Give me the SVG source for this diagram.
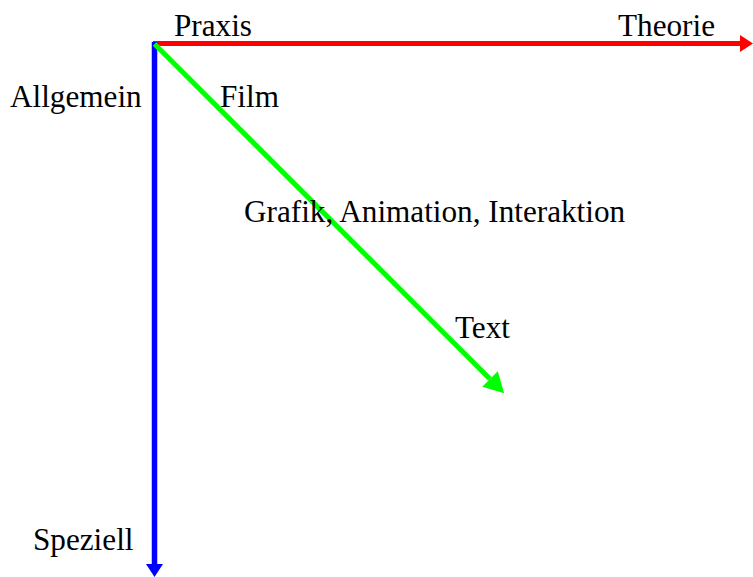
<svg xmlns="http://www.w3.org/2000/svg" width="753" height="577" viewBox="0 0 753 577">
<style>
text{font-family:"Liberation Serif","Times New Roman",serif;font-size:31.2px;fill:#000}
</style>
<defs>
<marker id="hr" markerUnits="userSpaceOnUse" markerWidth="14" markerHeight="18" refX="0" refY="8.5" orient="auto"><path d="M0,0L13,8.5L0,17z" fill="#ff0000"/></marker>
<marker id="hb" markerUnits="userSpaceOnUse" markerWidth="14" markerHeight="18" refX="0" refY="8.5" orient="auto"><path d="M0,0L13,8.5L0,17z" fill="#0000ff"/></marker>
<marker id="hg" markerUnits="userSpaceOnUse" markerWidth="22" markerHeight="24" refX="0" refY="11" orient="auto"><path d="M0,0L20,11L0,22z" fill="#00ff00"/></marker>
</defs>
<g id="connectors">
<line x1="153" y1="43.5" x2="740" y2="43.5" stroke="#ff0000" stroke-width="5" marker-end="url(#hr)"/>
<line x1="154.5" y1="42" x2="154.5" y2="564" stroke="#0000ff" stroke-width="5.5" marker-end="url(#hb)"/>
<line x1="154.5" y1="44" x2="490" y2="379" stroke="#00ff00" stroke-width="5" marker-end="url(#hg)"/>
</g>
<g id="praxis"><text x="174" y="36">Praxis</text></g>
<g id="theorie"><text x="618" y="36">Theorie</text></g>
<g id="allgemein"><text x="10" y="107">Allgemein</text></g>
<g id="film"><text x="220" y="107">Film</text></g>
<g id="grafik"><text x="244" y="222">Grafik, Animation, Interaktion</text></g>
<g id="text"><text x="455" y="338">Text</text></g>
<g id="speziell"><text x="33" y="550">Speziell</text></g>
</svg>
